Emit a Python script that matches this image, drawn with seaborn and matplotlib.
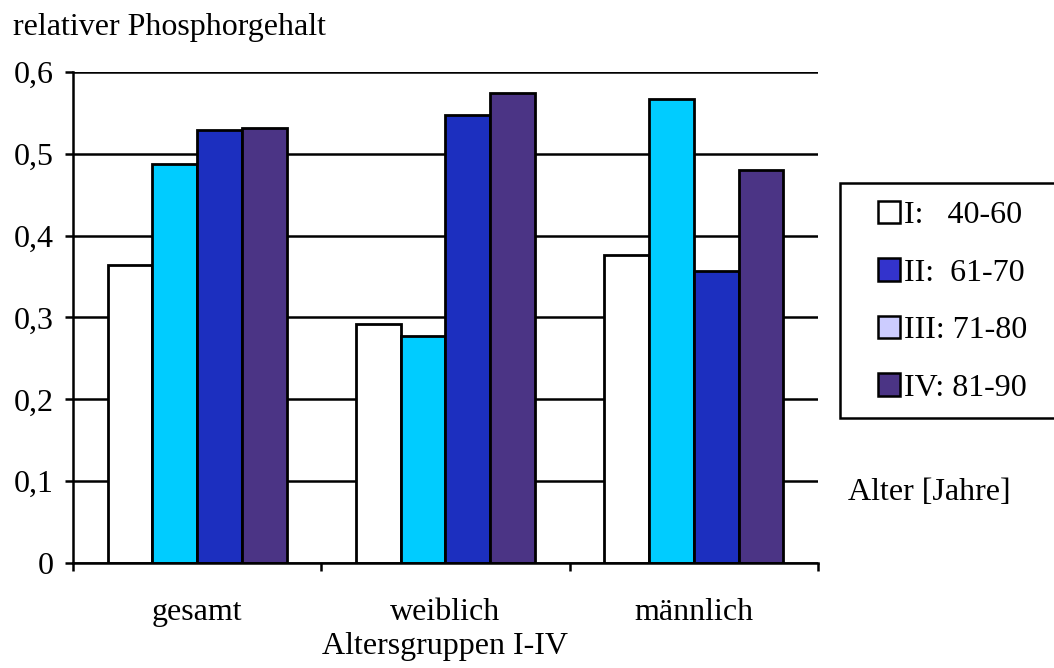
import matplotlib
matplotlib.use("Agg")
import matplotlib.pyplot as plt
from matplotlib.patches import Patch, Rectangle
from matplotlib.ticker import MultipleLocator, FixedLocator
import seaborn as sns
import pandas as pd

categories = ["gesamt", "weiblich", "männlich"]
groups = ["I:   40-60", "II:  61-70", "III: 71-80", "IV: 81-90"]
values = {
    "I:   40-60": [0.364, 0.292, 0.376],
    "II:  61-70": [0.487, 0.277, 0.567],
    "III: 71-80": [0.529, 0.547, 0.357],
    "IV: 81-90": [0.532, 0.574, 0.480],
}
bar_colors = ["#ffffff", "#00ccff", "#1c2fbf", "#4b3485"]
legend_colors = ["#ffffff", "#3333cc", "#ccccff", "#4b3485"]

rows = []
for g in groups:
    for c, v in zip(categories, values[g]):
        rows.append({"Kategorie": c, "Gruppe": g, "Wert": v})
df = pd.DataFrame(rows)

sns.set_theme(style="white")
plt.rcParams["font.family"] = ["Liberation Serif", "DejaVu Serif"]
fs = 23
W, H = 1054, 668

fig = plt.figure(figsize=(W / 100, H / 100), dpi=100)
ax = fig.add_axes([73 / W, 1 - 563 / H, (818 - 73) / W, (563 - 72) / H])

sns.barplot(data=df, x="Kategorie", y="Wert", hue="Gruppe", order=categories,
            hue_order=groups, palette=bar_colors, width=0.72, dodge=True,
            edgecolor="black", linewidth=2, saturation=1, legend=False, ax=ax)

ax.set_xlim(-0.5, 2.5)
ax.set_ylim(0, 0.6)
ax.yaxis.set_major_locator(MultipleLocator(0.1))
ax.set_yticklabels([f"{v:.1f}".replace(".", ",") if v > 0 else "0"
                    for v in ax.get_yticks()])
ax.grid(axis="y", color="black", linewidth=1.8)
ax.set_axisbelow(True)

for side in ["top", "right"]:
    ax.spines[side].set_visible(False)
for side in ["left", "bottom"]:
    ax.spines[side].set_color("black")
    ax.spines[side].set_linewidth(1.8)

ax.xaxis.set_minor_locator(FixedLocator([-0.5, 0.5, 1.5, 2.5]))
ax.tick_params(axis="x", which="major", length=0, pad=25, labelsize=fs, colors="black")
ax.tick_params(axis="x", which="minor", length=6, width=1.8, direction="out", color="black", bottom=True)
ax.tick_params(axis="y", which="major", length=6, width=1.8, direction="out",
               left=True, labelsize=fs, colors="black", pad=8)

ax.set_xlabel("Altersgruppen I-IV", fontsize=fs, color="black", labelpad=4)
ax.set_ylabel("")
fig.text(13 / W, 1 - 28 / H, "relativer Phosphorgehalt", fontsize=fs,
         color="black", va="center", ha="left")
fig.text(848 / W, 1 - 492 / H, "Alter [Jahre]", fontsize=fs,
         color="black", va="center", ha="left")

# legend frame, open to the right edge of the figure
fig.add_artist(Rectangle((840 / W, 1 - 418 / H), 230 / W, 235 / H,
                         transform=fig.transFigure, facecolor="white",
                         edgecolor="black", linewidth=1.8, clip_on=False, zorder=2))

handles = [Patch(facecolor=c, edgecolor="black", linewidth=1.8) for c in legend_colors]
leg = fig.legend(handles, groups, loc="upper left",
                 bbox_to_anchor=(878 / W, 1 - 201 / H),
                 fontsize=fs, labelcolor="black", frameon=False,
                 handlelength=0.7, handleheight=0.7,
                 handletextpad=0.12, labelspacing=0.88, borderpad=0,
                 borderaxespad=0)
leg.set_zorder(3)

fig.savefig("out.png", dpi=100, facecolor="white")
